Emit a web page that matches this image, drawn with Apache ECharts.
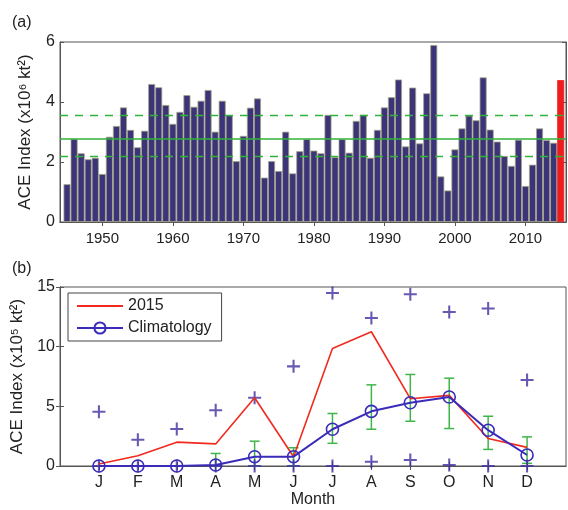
<!DOCTYPE html>
<html>
<head>
<meta charset="utf-8">
<script src="https://cdn.jsdelivr.net/npm/echarts@6/dist/echarts.min.js"></script>
<style>
  html, body { margin: 0; padding: 0; background: #fff; }
  #chart { width: 568px; height: 510px; }
</style>
</head>
<body>
<div id="chart"></div>
<script>
// panel (a): yearly ACE, 1945-2015
var years = [];
for (var y = 1945; y <= 2015; y++) years.push(y);
var aceYearly = [
  1.26, 2.77, 2.29, 2.09, 2.14, 1.60, 2.84, 3.20, 3.82, 3.07,   // 1945-1954
  2.49, 3.04, 4.60, 4.49, 3.90, 3.27, 3.67, 4.23, 3.84, 4.04,   // 1955-1964
  4.40, 3.01, 4.04, 3.56, 2.03, 2.87, 3.81, 4.12, 1.48, 2.03,   // 1965-1974
  1.70, 3.01, 1.62, 2.36, 2.76, 2.38, 2.29, 3.57, 2.16, 2.76,   // 1975-1984
  2.31, 3.37, 3.57, 2.14, 3.07, 3.82, 4.16, 4.75, 2.52, 4.48,   // 1985-1994
  2.62, 4.29, 5.90, 1.52, 1.05, 2.42, 3.12, 3.55, 3.39, 4.82,   // 1995-2004
  3.08, 2.68, 2.20, 1.87, 2.74, 1.20, 1.91, 3.12, 2.73, 2.64,   // 2005-2014
  4.73                                                          // 2015
];
var meanLine = 2.77;
var upperLine = 3.57;
var lowerLine = 2.20;
var yearTicks = [1950, 1960, 1970, 1980, 1990, 2000, 2010];

// panel (b): monthly ACE
var monthNums = [1, 2, 3, 4, 5, 6, 7, 8, 9, 10, 11, 12];
var monthLabels = ['J', 'F', 'M', 'A', 'M', 'J', 'J', 'A', 'S', 'O', 'N', 'D'];
var ace2015 = [0.17, 0.86, 2.0, 1.85, 5.72, 0.78, 9.85, 11.25, 5.64, 5.92, 2.3, 1.56];
var climatology = [0, 0, 0, 0.08, 0.78, 0.78, 3.08, 4.58, 5.3, 5.78, 3.0, 0.92];
var errLow = [0, 0, 0, 0, 0, 0, 1.9, 3.08, 3.75, 3.14, 1.39, 0.22];
var errHigh = [0, 0, 0, 1.05, 2.08, 1.53, 4.4, 6.8, 7.67, 7.36, 4.17, 2.44];
var maxVals = [4.55, 2.2, 3.1, 4.67, 5.72, 8.35, 14.5, 12.4, 14.4, 12.9, 13.2, 7.2];
var minVals = [0, 0, 0, 0, 0, 0, 0, 0.36, 0.5, 0.08, 0, 0];

var FONT = "'Liberation Sans', Arial, sans-serif";
var TXT = '#222';
var FRAME = '#555';
var GREEN = '#2fb33a';
var PLUS = '#40309f';
var plusPath = 'path://M5.05,0H6.95V5.05H12V6.95H6.95V12H5.05V6.95H0V5.05H5.05Z';

function pairs(xs, vs) {
  return xs.map(function (x, i) { return [x, vs[i]]; });
}

var barData = years.map(function (yr, i) {
  var item = { value: [yr, aceYearly[i]] };
  if (yr === 2015) item.itemStyle = { color: '#ee1c1c', borderColor: '#ee1c1c' };
  return item;
});

var errData = [];
monthNums.forEach(function (m, i) {
  if (errHigh[i] > 0) errData.push([m, errLow[i], errHigh[i]]);
});

function tickOnly(gridIndex, pos, min, max, interval, custom) {
  var ax = {
    type: 'value', gridIndex: gridIndex, position: pos, min: min, max: max,
    axisLine: { show: true, lineStyle: { color: FRAME } },
    axisTick: { show: true, inside: true, length: 4, lineStyle: { color: FRAME } },
    axisLabel: { show: false }, splitLine: { show: false }
  };
  if (interval) ax.interval = interval;
  if (custom) ax.axisTick.customValues = custom;
  return ax;
}

var chart = echarts.init(document.getElementById('chart'), null, { renderer: 'canvas' });

var option = {
  animation: false,
  backgroundColor: '#fff',
  textStyle: { fontFamily: FONT, color: TXT },
  title: [
    { text: '(a)', left: 7, top: 10, textStyle: { fontSize: 16, fontWeight: 'normal', color: TXT, fontFamily: FONT } },
    { text: '(b)', left: 7, top: 256, textStyle: { fontSize: 16, fontWeight: 'normal', color: TXT, fontFamily: FONT } }
  ],
  legend: {
    data: [
      { name: '2015', itemStyle: { opacity: 0 } },
      { name: 'Climatology' }
    ],
    orient: 'vertical',
    left: 68, top: 293,
    padding: [5, 10, 5, 8],
    itemGap: 6,
    itemWidth: 46, itemHeight: 14,
    backgroundColor: '#fff',
    borderColor: '#444', borderWidth: 1, borderRadius: 0,
    textStyle: { fontSize: 16, color: TXT, fontFamily: FONT }
  },
  grid: [
    { left: 60, top: 42, width: 506, height: 180, show: true, borderColor: FRAME, borderWidth: 1 },
    { left: 60, top: 287, width: 506, height: 179, show: true, borderColor: FRAME, borderWidth: 1 }
  ],
  xAxis: [
    {
      type: 'value', gridIndex: 0, min: 1944, max: 2015.75,
      axisLine: { show: true, lineStyle: { color: FRAME } },
      axisTick: { show: true, inside: true, length: 4, customValues: yearTicks, lineStyle: { color: FRAME } },
      axisLabel: {
        customValues: yearTicks, fontSize: 15, color: TXT, margin: 9, fontFamily: FONT,
        formatter: function (v) { return String(v); }
      },
      splitLine: { show: false }
    },
    {
      type: 'value', gridIndex: 1, min: 0, max: 13, interval: 1,
      name: 'Month', nameLocation: 'middle', nameGap: 26,
      nameTextStyle: { fontSize: 16, color: TXT, fontFamily: FONT },
      axisLine: { show: true, lineStyle: { color: FRAME } },
      axisTick: { show: true, inside: true, length: 4, customValues: monthNums, lineStyle: { color: FRAME } },
      axisLabel: {
        customValues: monthNums, fontSize: 16, color: TXT, margin: 9, fontFamily: FONT,
        formatter: function (v) { return monthLabels[v - 1] || ''; }
      },
      splitLine: { show: false }
    },
    tickOnly(0, 'top', 1944, 2015.75, null, yearTicks),
    tickOnly(1, 'top', 0, 13, 1, monthNums)
  ],
  yAxis: [
    {
      type: 'value', gridIndex: 0, min: 0, max: 6, interval: 2,
      name: 'ACE Index (x10\u2076 kt\u00B2)', nameLocation: 'middle', nameGap: 26,
      nameTextStyle: { fontSize: 17, color: TXT, fontFamily: FONT },
      axisLine: { show: true, lineStyle: { color: FRAME } },
      axisTick: { show: true, inside: true, length: 4, lineStyle: { color: FRAME } },
      axisLabel: { fontSize: 16, color: TXT, margin: 5, fontFamily: FONT },
      splitLine: { show: false }
    },
    {
      type: 'value', gridIndex: 1, min: 0, max: 15, interval: 5,
      name: 'ACE Index (x10\u2075 kt\u00B2)', nameLocation: 'middle', nameGap: 26,
      nameTextStyle: { fontSize: 17, color: TXT, fontFamily: FONT },
      axisLine: { show: true, lineStyle: { color: FRAME } },
      axisTick: { show: true, inside: true, length: 4, lineStyle: { color: FRAME } },
      axisLabel: { fontSize: 16, color: TXT, margin: 5, fontFamily: FONT },
      splitLine: { show: false }
    },
    tickOnly(0, 'right', 0, 6, 2),
    tickOnly(1, 'right', 0, 15, 5)
  ],
  series: [
    {
      name: 'ACE yearly', type: 'bar', xAxisIndex: 0, yAxisIndex: 0,
      data: barData, barWidth: 7,
      itemStyle: { color: '#3b3478', borderColor: '#a5a388', borderWidth: 0.8 },
      z: 2
    },
    {
      // mean and spread lines drawn over the bars
      name: 'levels', type: 'line', xAxisIndex: 0, yAxisIndex: 0,
      data: [], symbol: 'none',
      markLine: {
        silent: true, symbol: 'none', label: { show: false },
        lineStyle: { color: GREEN, width: 1.3, type: 'dashed', dashOffset: 0 },
        data: [
          { yAxis: meanLine, lineStyle: { color: GREEN, width: 1.6, type: 'solid' } },
          { yAxis: upperLine, lineStyle: { color: GREEN, width: 1.3, type: [8, 7] } },
          { yAxis: lowerLine, lineStyle: { color: GREEN, width: 1.3, type: [8, 7] } }
        ]
      },
      z: 3
    },
    {
      name: 'spread', type: 'custom', xAxisIndex: 1, yAxisIndex: 1,
      data: errData,
      renderItem: function (params, api) {
        var x = api.value(0);
        var lo = api.coord([x, api.value(1)]);
        var hi = api.coord([x, api.value(2)]);
        var w = 5;
        var st = { stroke: '#3fb54a', lineWidth: 1.5 };
        return {
          type: 'group',
          children: [
            { type: 'line', shape: { x1: lo[0], y1: lo[1], x2: hi[0], y2: hi[1] }, style: st },
            { type: 'line', shape: { x1: lo[0] - w, y1: lo[1], x2: lo[0] + w, y2: lo[1] }, style: st },
            { type: 'line', shape: { x1: hi[0] - w, y1: hi[1], x2: hi[0] + w, y2: hi[1] }, style: st }
          ]
        };
      },
      z: 2
    },
    {
      name: 'max', type: 'scatter', xAxisIndex: 1, yAxisIndex: 1,
      data: pairs(monthNums, maxVals),
      symbol: plusPath, symbolSize: 13,
      itemStyle: { color: PLUS }, z: 3
    },
    {
      name: 'min', type: 'scatter', xAxisIndex: 1, yAxisIndex: 1,
      data: pairs(monthNums, minVals),
      symbol: plusPath, symbolSize: 13,
      itemStyle: { color: PLUS }, z: 3
    },
    {
      name: '2015', type: 'line', xAxisIndex: 1, yAxisIndex: 1,
      data: pairs(monthNums, ace2015),
      symbol: 'none',
      lineStyle: { color: '#f02a1e', width: 1.6 },
      itemStyle: { color: '#f02a1e' },
      z: 4
    },
    {
      name: 'Climatology', type: 'line', xAxisIndex: 1, yAxisIndex: 1,
      data: pairs(monthNums, climatology),
      symbol: 'circle', symbolSize: 12, showAllSymbol: true,
      lineStyle: { color: '#3a2cb8', width: 2 },
      itemStyle: { color: 'rgba(0,0,0,0)', borderColor: '#3a2cb8', borderWidth: 1.6 },
      z: 5
    }
  ]
};

chart.setOption(option);
</script>
</body>
</html>
